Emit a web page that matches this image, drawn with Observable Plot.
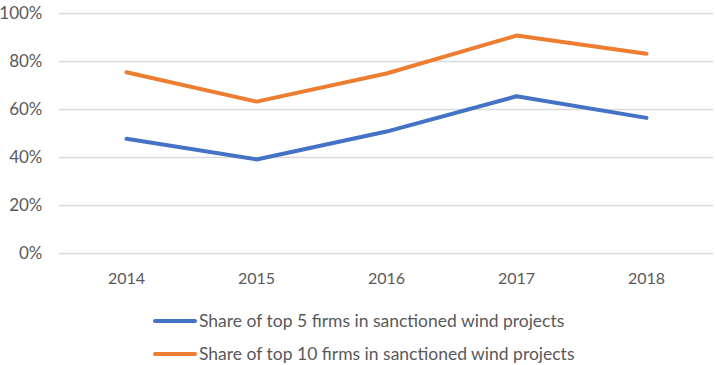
<!DOCTYPE html>
<html>
<head>
<meta charset="utf-8">
<script src="https://cdn.jsdelivr.net/npm/d3@7"></script>
<script src="https://cdn.jsdelivr.net/npm/@observablehq/plot@0.6"></script>
<style>
  html, body { margin: 0; padding: 0; background: #fff; }
  body { width: 715px; height: 365px; overflow: hidden; font-family: Lato, "Open Sans", sans-serif; }
  #legend { position: relative; height: 65px; }
  .row { position: absolute; left: 153px; height: 33px; display: flex; align-items: center; font-size: 17.5px; color: #595959; white-space: nowrap; }
  .sw { width: 44px; height: 4px; border-radius: 2px; margin-right: 2px; }
</style>
</head>
<body>
<div id="chart"></div>
<div id="legend"></div>
<script>
const years = ["2014", "2015", "2016", "2017", "2018"];
const top5 = [0.478, 0.392, 0.508, 0.655, 0.565];
const top10 = [0.755, 0.633, 0.75, 0.908, 0.832];
const seriesNames = [
  "Share of top 5 firms in sanctioned wind projects",
  "Share of top 10 firms in sanctioned wind projects"
];
const seriesColors = ["#4472C4", "#ED7D31"];
const yTicks = [0, 0.2, 0.4, 0.6, 0.8, 1.0];

const rows = [];
years.forEach((y, i) => {
  rows.push({year: y, value: top5[i], series: seriesNames[0]});
  rows.push({year: y, value: top10[i], series: seriesNames[1]});
});

const chart = Plot.plot({
  width: 715,
  height: 300,
  marginTop: 13,
  marginBottom: 47,
  marginLeft: 59,
  marginRight: 2,
  style: {fontFamily: "Lato, 'Open Sans', sans-serif", fontSize: "16px", color: "#595959", background: "#fff"},
  x: {type: "point", domain: years, padding: 0.5, label: null},
  y: {domain: [0, 1], label: null},
  color: {domain: seriesNames, range: seriesColors},
  marks: [
    Plot.ruleY(yTicks, {stroke: "#d9d9d9", strokeWidth: 1.5}),
    Plot.axisY(yTicks, {tickSize: 0, tickPadding: 17, tickFormat: d => Math.round(d * 100) + "%", label: null, fontSize: 17, fill: "#595959"}),
    Plot.axisX({tickSize: 0, tickPadding: 19, label: null, fontSize: 16, fill: "#595959"}),
    Plot.line(rows, {x: "year", y: "value", z: "series", stroke: "series", strokeWidth: 4, curve: "linear", strokeLinecap: "round", strokeLinejoin: "round"})
  ]
});
document.getElementById("chart").appendChild(chart);

const legend = document.getElementById("legend");
seriesNames.forEach((name, i) => {
  const row = document.createElement("div");
  row.className = "row";
  row.style.top = (4 + i * 33) + "px";
  const sw = document.createElement("span");
  sw.className = "sw";
  sw.style.background = seriesColors[i];
  const t = document.createElement("span");
  t.textContent = name;
  row.appendChild(sw);
  row.appendChild(t);
  legend.appendChild(row);
});
</script>
</body>
</html>
